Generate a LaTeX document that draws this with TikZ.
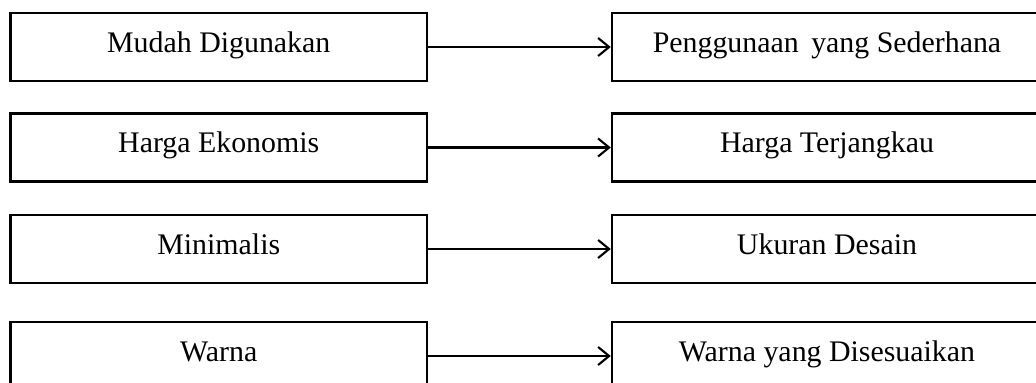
\documentclass[tikz,border=0pt]{standalone}
\usepackage{fontspec}
\setmainfont{Liberation Serif}
\usepackage{tikz}
\usetikzlibrary{arrows.meta}

\begin{document}
\begin{tikzpicture}[>={Straight Barb[length=2.2mm,width=3.6mm]},
        kotak/.style={shape=rectangle,draw=black,line width=1.4pt,minimum height=1.36cm,
            font=\fontsize{17}{20}\selectfont,inner sep=0pt,text height=11.5pt,text depth=5.8pt}]
        \useasboundingbox (0,0) rectangle (20.72,-7.64);
        \node[kotak,minimum width=8.33cm] (A1) at (4.375,-0.94) {Mudah Digunakan};
        \node[kotak,minimum width=8.6cm] (B1) at (16.54,-0.94) {Penggunaan\, yang Sederhana};
        \node[kotak,minimum width=8.33cm] (A2) at (4.375,-2.95) {Harga Ekonomis};
        \node[kotak,minimum width=8.6cm] (B2) at (16.54,-2.95) {Harga Terjangkau};
        \node[kotak,minimum width=8.33cm] (A3) at (4.375,-4.98) {Minimalis};
        \node[kotak,minimum width=8.6cm] (B3) at (16.54,-4.98) {Ukuran Desain};
        \node[kotak,minimum width=8.33cm] (A4) at (4.375,-7.12) {Warna};
        \node[kotak,minimum width=8.6cm] (B4) at (16.54,-7.12) {Warna yang Disesuaikan};
        \draw [->,line width=1.2pt] (A1) -- (B1);
        \draw [->,line width=1.2pt] (A2) -- (B2);
        \draw [->,line width=1.2pt] (A3) -- (B3);
        \draw [->,line width=1.2pt] (A4) -- (B4);
    \end{tikzpicture}
\end{document}
